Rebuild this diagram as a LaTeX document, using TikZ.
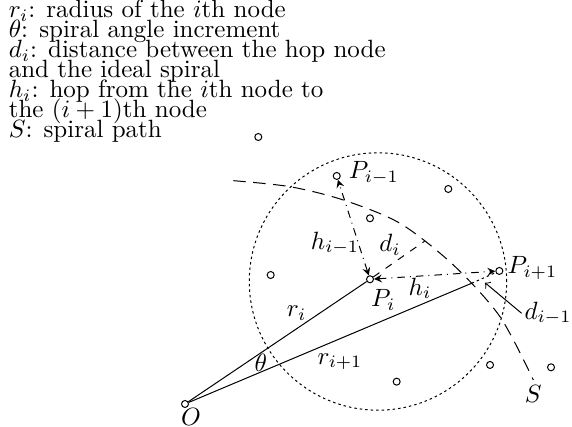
\documentclass[tikz,border=0pt]{standalone}
\usepackage{amsmath}

\begin{document}
\begin{tikzpicture}[
  pt/.style={circle, draw, inner sep=0pt, minimum size=2.8pt},
  hop/.style={dash dot, stealth-stealth},
  near/.style={dash pattern=on 1pt off 1.2pt},
  spiral/.style={dash pattern=on 5pt off 3pt}]
  \useasboundingbox (-2.602,-0.323) rectangle (5.443,5.682);
  %% legend
  \node[anchor=north west, inner sep=0pt, align=left,
    font={\fontsize{10pt}{8pt}\selectfont\lineskiplimit=-\maxdimen}] (legend) at (-2.485,5.69)
    {$r_i$: radius of the $i$th node\\
     $\theta$: spiral angle increment\\
     $d_i$: distance between the hop node\\
     and the ideal spiral\\
     $h_i$: hop from the $i$th node to\\
     the $(i+1)$th node\\
     $S$: spiral path};
  %% nodes
  \node[pt] (O) at (0,0) {};
  \node[pt] (Pi) at (2.602,1.754) {};
  \node[pt] (Pim1) at (2.134,3.207) {};
  \node[pt] (Pip1) at (4.421,1.871) {};
  \foreach \x/\y [count=\k] in {1.031/3.755, 2.602/2.612, 3.703/3.024, 1.205/1.814,
                                2.977/0.314, 4.290/0.549, 5.148/0.516}
    \node[pt] (n\k) at (\x,\y) {};
  %% neighbourhood of P_i
  \draw[near] (2.714,1.723) circle (1.81);
  %% ideal spiral
  \draw[spiral] plot[smooth] coordinates {(0.679,3.141) (1.477,3.056) (2.226,2.869)
    (3.024,2.541) (3.774,1.955) (4.430,1.228) (4.899,0.338)};
  \coordinate (sp) at (4.032,1.698);
  \coordinate (di) at (3.37,2.29);
  \coordinate (dtip) at (4.219,1.706);
  %% radii
  \draw (O) -- (Pi);
  \draw (O) -- (sp);
  %% hops
  \draw[hop] (Pi) -- (Pim1);
  \draw[hop] (Pi) -- (Pip1);
  %% distances to the spiral
  \draw[dashed] (Pi) -- (di);
  \draw[near] (sp) -- (Pip1);
  %% labels
  \node (lO) at (0.084,-0.176) {$O$};
  \node (lPi) at (2.789,1.463) {$P_i$};
  \node (lPim1) at (2.655,3.245) {$P_{i-1}$};
  \node (lPip1) at (4.887,1.913) {$P_{i+1}$};
  \node (lth) at (1.065,0.572) {$\theta$};
  \node (lri) at (1.571,1.276) {$r_i$};
  \node (lrip1) at (2.180,0.595) {$r_{i+1}$};
  \node (lhi) at (3.305,1.627) {$h_i$};
  \node (lhim1) at (2.110,2.260) {$h_{i-1}$};
  \node (ldi) at (2.883,2.236) {$d_i$};
  \node (lS) at (4.899,0.134) {$S$};
  \node[inner sep=1pt] (ldim1) at (5.106,1.276) {$d_{i-1}$};
  \draw[-to] (ldim1.west) -- (dtip);
\end{tikzpicture}
\end{document}
